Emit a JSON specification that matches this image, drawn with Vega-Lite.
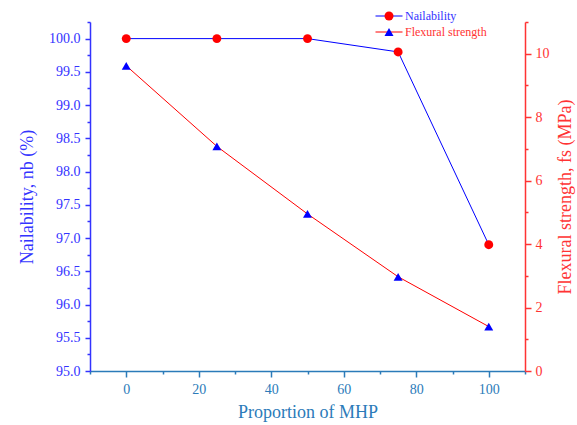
{
  "$schema": "https://vega.github.io/schema/vega-lite/v6.json",
  "width": 435,
  "height": 349,
  "autosize": "none",
  "padding": {"left": 90, "top": 22, "right": 52, "bottom": 54},
  "config": {
    "font": "Liberation Serif",
    "view": {"stroke": null},
    "style": {"guide-label": {"font": "Liberation Serif"}, "guide-title": {"font": "Liberation Serif", "fontWeight": "normal"}},
    "axis": {"grid": false, "labelFont": "Liberation Serif", "titleFont": "Liberation Serif", "titleFontWeight": "normal", "labelFontSize": 14, "titleFontSize": 18, "labelOverlap": false, "labelBound": false, "labelFlush": false},
    "legend": {"padding": 0, "labelFont": "Liberation Serif"}
  },
  "data": {
    "values": [
      {"x": 0, "series": "Nailability", "marker": "circle", "value": 100.0},
      {"x": 25, "series": "Nailability", "marker": "circle", "value": 100.0},
      {"x": 50, "series": "Nailability", "marker": "circle", "value": 100.0},
      {"x": 75, "series": "Nailability", "marker": "circle", "value": 99.8},
      {"x": 100, "series": "Nailability", "marker": "circle", "value": 96.9},
      {"x": 0, "series": "Flexural strength", "marker": "triangle", "value": 9.62},
      {"x": 25, "series": "Flexural strength", "marker": "triangle", "value": 7.08},
      {"x": 50, "series": "Flexural strength", "marker": "triangle", "value": 4.95},
      {"x": 75, "series": "Flexural strength", "marker": "triangle", "value": 2.97},
      {"x": 100, "series": "Flexural strength", "marker": "triangle", "value": 1.4}
    ]
  },
  "encoding": {
    "x": {
      "field": "x",
      "type": "quantitative",
      "scale": {"domain": [-10, 110], "nice": false, "zero": false},
      "axis": {
        "title": "Proportion of MHP",
        "labelFont": "Liberation Serif", "titleFont": "Liberation Serif", "titleFontWeight": "normal",
        "labelFontSize": 14, "titleFontSize": 18,
        "values": [-10, 0, 10, 20, 30, 40, 50, 60, 70, 80, 90, 100, 110],
        "labelExpr": "datum.value % 20 == 0 && datum.value >= 0 && datum.value <= 100 ? datum.value : ''",
        "tickSize": {"condition": {"test": "datum.value % 20 == 0", "value": 6}, "value": 3},
        "domainColor": "#2b7bb9",
        "tickColor": "#2b7bb9",
        "labelColor": "#2b7bb9",
        "titleColor": "#2b7bb9",
        "domainWidth": 1.5,
        "tickWidth": 1.5,
        "labelPadding": 5,
        "titlePadding": 7
      }
    }
  },
  "layer": [
    {
      "transform": [{"filter": "datum.series == 'Nailability'"}],
      "encoding": {
        "y": {
          "field": "value",
          "type": "quantitative",
          "scale": {"domain": [95, 100.25], "nice": false, "zero": false},
          "axis": {
            "orient": "left",
            "title": "Nailability, nb (%)",
            "labelFont": "Liberation Serif", "titleFont": "Liberation Serif", "titleFontWeight": "normal",
            "labelFontSize": 14, "titleFontSize": 18,
            "values": [95, 95.25, 95.5, 95.75, 96, 96.25, 96.5, 96.75, 97, 97.25, 97.5, 97.75, 98, 98.25, 98.5, 98.75, 99, 99.25, 99.5, 99.75, 100, 100.25],
            "labelExpr": "datum.value % 0.5 == 0 ? format(datum.value, '.1f') : ''",
            "tickSize": {"condition": {"test": "datum.value % 0.5 == 0", "value": 5}, "value": 3},
            "domainColor": "#3333ff",
            "tickColor": "#3333ff",
            "labelColor": "#3333ff",
            "titleColor": "#3333ff",
            "domainWidth": 1.5,
            "tickWidth": 1.5,
            "labelPadding": 5,
            "titlePadding": 12
          }
        }
      },
      "layer": [
        {
          "mark": {"type": "line", "strokeWidth": 1},
          "encoding": {
            "stroke": {
              "field": "series", "type": "nominal",
              "scale": {"domain": ["Nailability", "Flexural strength"], "range": ["#0000ff", "#ff0000"]},
              "legend": {
                "orient": "none", "legendX": 293, "legendY": -12, "title": null,
                "symbolType": "M-3,0H3", "symbolSize": 81, "symbolStrokeWidth": 1,
                "labelFont": "Liberation Serif", "labelFontSize": 12, "labelOffset": 10, "rowPadding": 4,
                "encode": {"labels": {"update": {"fill": {"signal": "datum.value == 'Nailability' ? '#3333ff' : '#ff3333'"}}}}
              }
            }
          }
        },
        {
          "mark": {"type": "point", "filled": true, "size": 80, "opacity": 1},
          "encoding": {
            "fill": {
              "field": "marker", "type": "nominal",
              "scale": {"domain": ["circle", "triangle"], "range": ["#ff0000", "#0000ff"]},
              "legend": {
                "orient": "none", "legendX": 293, "legendY": -12, "title": null,
                "symbolSize": 81, "symbolStrokeWidth": 0,
                "labelFont": "Liberation Serif", "labelFontSize": 12, "labelOffset": 10, "rowPadding": 4, "labelExpr": "''"
              }
            },
            "shape": {
              "field": "marker", "type": "nominal",
              "scale": {"domain": ["circle", "triangle"], "range": ["circle", "triangle-up"]},
              "legend": {
                "orient": "none", "legendX": 293, "legendY": -12, "title": null,
                "symbolSize": 81, "symbolStrokeWidth": 0,
                "labelFont": "Liberation Serif", "labelFontSize": 12, "labelOffset": 10, "rowPadding": 4, "labelExpr": "''"
              }
            }
          }
        }
      ]
    },
    {
      "transform": [{"filter": "datum.series == 'Flexural strength'"}],
      "encoding": {
        "y": {
          "field": "value",
          "type": "quantitative",
          "scale": {"domain": [0, 11], "nice": false, "zero": false},
          "axis": {
            "orient": "right",
            "title": "Flexural strength, fs (MPa)",
            "labelFont": "Liberation Serif", "titleFont": "Liberation Serif", "titleFontWeight": "normal",
            "labelFontSize": 14, "titleFontSize": 18,
            "titleAngle": 270,
            "values": [0, 1, 2, 3, 4, 5, 6, 7, 8, 9, 10, 11],
            "labelExpr": "datum.value % 2 == 0 && datum.value <= 10 ? datum.value : ''",
            "tickSize": {"condition": {"test": "datum.value % 2 == 0", "value": 6}, "value": 3},
            "domainColor": "#ff3333",
            "tickColor": "#ff3333",
            "labelColor": "#ff3333",
            "titleColor": "#ff3333",
            "domainWidth": 1.5,
            "tickWidth": 1.5,
            "labelPadding": 4,
            "titlePadding": 25
          }
        }
      },
      "layer": [
        {
          "mark": {"type": "line", "strokeWidth": 1},
          "encoding": {
            "stroke": {
              "field": "series", "type": "nominal",
              "scale": {"domain": ["Nailability", "Flexural strength"], "range": ["#0000ff", "#ff0000"]},
              "legend": {
                "orient": "none", "legendX": 293, "legendY": -12, "title": null,
                "symbolType": "M-3,0H3", "symbolSize": 81, "symbolStrokeWidth": 1,
                "labelFont": "Liberation Serif", "labelFontSize": 12, "labelOffset": 10, "rowPadding": 4,
                "encode": {"labels": {"update": {"fill": {"signal": "datum.value == 'Nailability' ? '#3333ff' : '#ff3333'"}}}}
              }
            }
          }
        },
        {
          "mark": {"type": "point", "filled": true, "size": 80, "opacity": 1},
          "encoding": {
            "fill": {
              "field": "marker", "type": "nominal",
              "scale": {"domain": ["circle", "triangle"], "range": ["#ff0000", "#0000ff"]},
              "legend": {
                "orient": "none", "legendX": 293, "legendY": -12, "title": null,
                "symbolSize": 81, "symbolStrokeWidth": 0,
                "labelFont": "Liberation Serif", "labelFontSize": 12, "labelOffset": 10, "rowPadding": 4, "labelExpr": "''"
              }
            },
            "shape": {
              "field": "marker", "type": "nominal",
              "scale": {"domain": ["circle", "triangle"], "range": ["circle", "triangle-up"]},
              "legend": {
                "orient": "none", "legendX": 293, "legendY": -12, "title": null,
                "symbolSize": 81, "symbolStrokeWidth": 0,
                "labelFont": "Liberation Serif", "labelFontSize": 12, "labelOffset": 10, "rowPadding": 4, "labelExpr": "''"
              }
            }
          }
        }
      ]
    }
  ],
  "resolve": {"scale": {"y": "independent"}}
}
